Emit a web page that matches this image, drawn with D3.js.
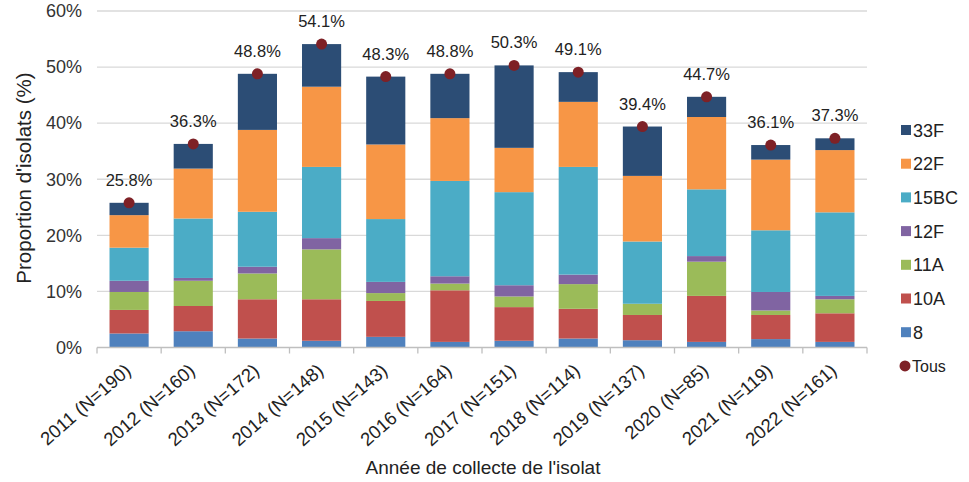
<!DOCTYPE html>
<html>
<head>
<meta charset="utf-8">
<script src="https://cdn.jsdelivr.net/npm/d3@7"></script>
<style>
  html, body { margin: 0; padding: 0; background: #fff; }
  svg { display: block; font-family: "Liberation Sans", Arial, sans-serif; }
</style>
</head>
<body>
<svg id="chart" width="969" height="482"></svg>
<script>
const categories = ["2011 (N=190)", "2012 (N=160)", "2013 (N=172)", "2014 (N=148)", "2015 (N=143)", "2016 (N=164)",
  "2017 (N=151)", "2018 (N=114)", "2019 (N=137)", "2020 (N=85)", "2021 (N=119)", "2022 (N=161)"];
const seriesNames = ["8", "10A", "11A", "12F", "15BC", "22F", "33F"];
const s8    = [2.5, 2.9, 1.6, 1.2, 1.9, 1.0, 1.2, 1.6, 1.3, 1.0, 1.5, 1.0];
const s10A  = [4.2, 4.5, 7.0, 7.4, 6.4, 9.2, 6.0, 5.3, 4.5, 8.2, 4.3, 5.1];
const s11A  = [3.2, 4.5, 4.6, 8.9, 1.4, 1.2, 1.9, 4.4, 2.0, 6.1, 0.8, 2.5];
const s12F  = [2.0, 0.5, 1.2, 2.0, 2.0, 1.3, 2.0, 1.7, 0.0, 1.0, 3.3, 0.6];
const s15BC = [5.9, 10.6, 9.8, 12.7, 11.2, 17.0, 16.6, 19.2, 11.1, 11.9, 11.0, 14.9];
const s22F  = [5.8, 8.9, 14.6, 14.3, 13.3, 11.2, 7.9, 11.6, 11.7, 12.9, 12.6, 11.1];
const s33F  = [2.2, 4.4, 10.0, 7.6, 12.1, 7.9, 14.7, 5.3, 8.8, 3.6, 2.6, 2.1];
const tous  = [25.8, 36.3, 48.8, 54.1, 48.3, 48.8, 50.3, 49.1, 39.4, 44.7, 36.1, 37.3];
const yTicks = [0, 10, 20, 30, 40, 50, 60];
const colors = ["#4F81BD", "#C0504D", "#9BBB59", "#8064A2", "#4BACC6", "#F79646", "#2C4D75"];
const tousColor = "#7E2126";

const seriesValues = [s8, s10A, s11A, s12F, s15BC, s22F, s33F];
const rows = categories.map((c, i) => {
  const r = { cat: c };
  seriesNames.forEach((s, j) => r[s] = seriesValues[j][i]);
  return r;
});

const svg = d3.select("#chart");
const x = d3.scaleBand().domain(categories).range([97, 867]).paddingInner(0.39).paddingOuter(0.195);
const y = d3.scaleLinear().domain([0, 60]).range([347.5, 11]);

// gridlines
svg.append("g").selectAll("line").data(yTicks.filter(t => t > 0)).join("line")
  .attr("x1", 97).attr("x2", 867)
  .attr("y1", d => y(d)).attr("y2", d => y(d))
  .attr("stroke", "#D9D9D9").attr("stroke-width", 1.3);

// y axis labels
const yAxis = d3.axisLeft(y).tickValues(yTicks).tickFormat(d => d + "%").tickSize(0).tickPadding(15);
const gy = svg.append("g").attr("transform", "translate(97,0)").call(yAxis);
gy.select(".domain").remove();
gy.selectAll("text").attr("font-size", 18).attr("fill", "#333").attr("font-family", "Liberation Sans, Arial, sans-serif");

// stacked bars
const stack = d3.stack().keys(seriesNames)(rows);
svg.append("g").selectAll("g").data(stack).join("g")
  .attr("fill", (d, i) => colors[i])
  .selectAll("rect").data(d => d).join("rect")
  .attr("x", d => x(d.data.cat))
  .attr("width", x.bandwidth())
  .attr("y", d => y(d[1]))
  .attr("height", d => Math.max(0, y(d[0]) - y(d[1])));

// x axis
const xAxisLine = svg.append("g");
xAxisLine.append("line").attr("x1", 97).attr("x2", 867).attr("y1", y(0)).attr("y2", y(0))
  .attr("stroke", "#BFBFBF").attr("stroke-width", 1.3);
const edges = categories.map(c => x(c) - x.step() * x.paddingInner() / 2).concat([867]);
xAxisLine.selectAll("line.tk").data(edges).join("line").attr("class", "tk")
  .attr("x1", d => d).attr("x2", d => d).attr("y1", y(0)).attr("y2", y(0) + 6)
  .attr("stroke", "#BFBFBF").attr("stroke-width", 1.3);

svg.append("g").selectAll("text").data(categories).join("text")
  .attr("transform", d => `translate(${x(d) + x.bandwidth() / 2 + 3},${y(0) + 25}) rotate(-41)`)
  .attr("text-anchor", "end")
  .attr("font-size", 18.5).attr("fill", "#222")
  .text(d => d);

// Tous dots
svg.append("g").selectAll("circle").data(tous).join("circle")
  .attr("cx", (d, i) => x(categories[i]) + x.bandwidth() / 2)
  .attr("cy", d => y(d))
  .attr("r", 5.5).attr("fill", tousColor);

// value labels
svg.append("g").selectAll("text").data(tous).join("text")
  .attr("x", (d, i) => x(categories[i]) + x.bandwidth() / 2)
  .attr("y", d => y(d) - 17)
  .attr("text-anchor", "middle").attr("font-size", 16.5).attr("fill", "#222")
  .text(d => d.toFixed(1) + "%");

// axis titles
svg.append("text").attr("x", 483).attr("y", 474).attr("text-anchor", "middle")
  .attr("font-size", 19).attr("fill", "#222").text("Année de collecte de l'isolat");
svg.append("text").attr("transform", "translate(31,178) rotate(-90)").attr("text-anchor", "middle")
  .attr("font-size", 20.5).attr("fill", "#222").text("Proportion d'isolats (%)");

// legend
const legendItems = seriesNames.slice().reverse();
const lg = svg.append("g");
legendItems.forEach((name, k) => {
  const idx = seriesNames.indexOf(name);
  const cy = 130 + k * 33.7;
  lg.append("rect").attr("x", 901).attr("y", cy - 5).attr("width", 10).attr("height", 10).attr("fill", colors[idx]);
  lg.append("text").attr("x", 913).attr("y", cy + 6.5).attr("font-size", 18).attr("fill", "#222").text(name);
});
const ty = 130 + 7 * 33.7;
lg.append("circle").attr("cx", 905).attr("cy", ty).attr("r", 5.5).attr("fill", tousColor);
lg.append("text").attr("x", 912).attr("y", ty + 6.5).attr("font-size", 16).attr("fill", "#222").text("Tous");
</script>
</body>
</html>
